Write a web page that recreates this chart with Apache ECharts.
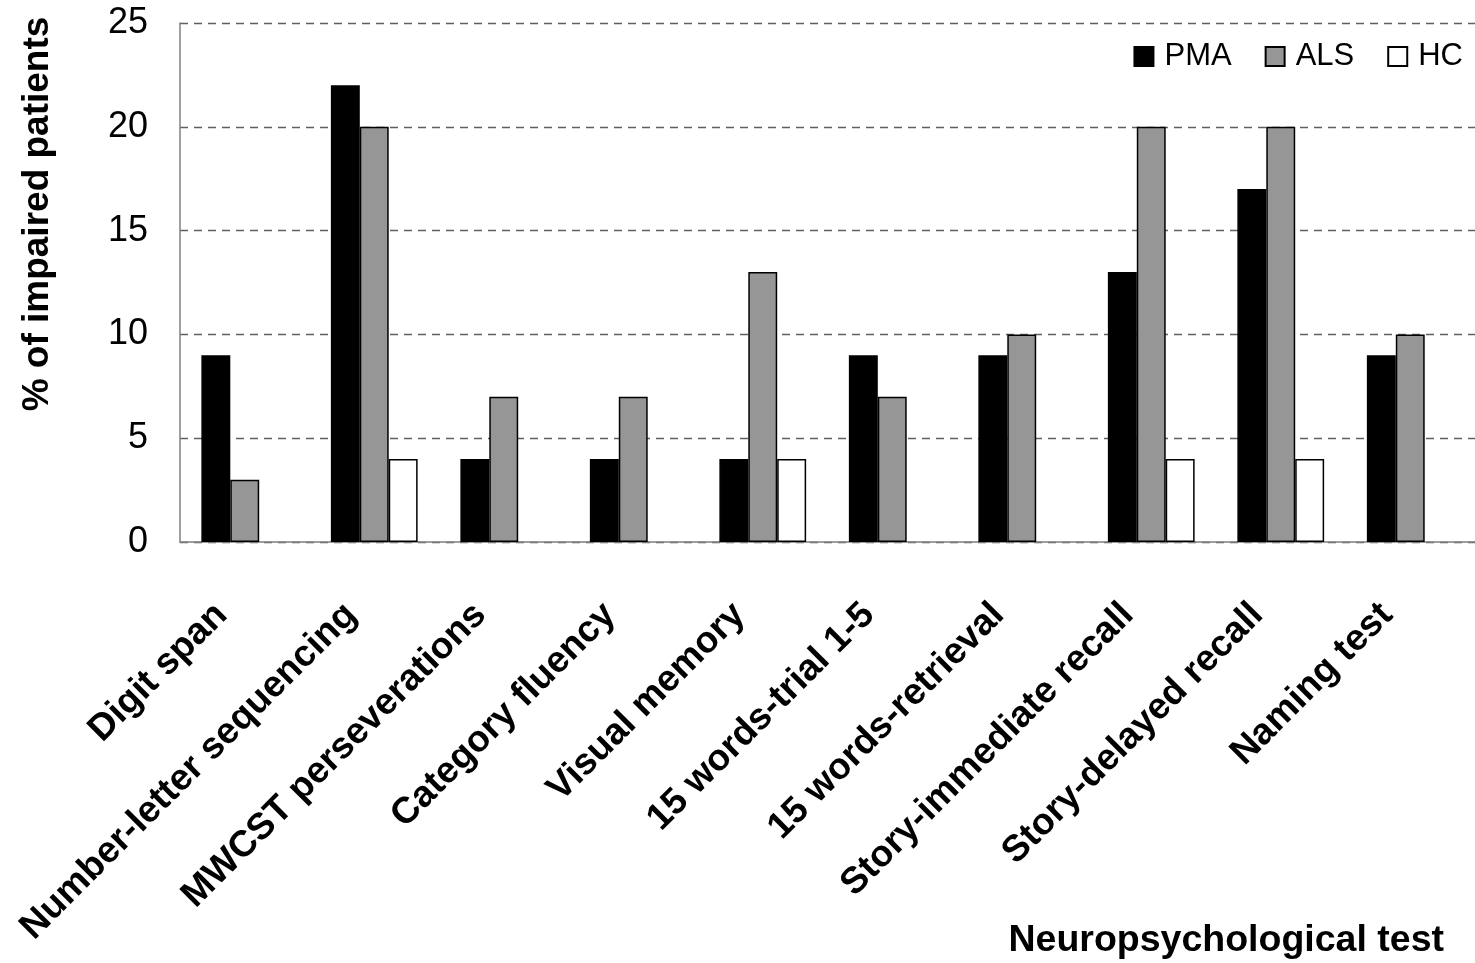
<!DOCTYPE html>
<html>
<head>
<meta charset="utf-8">
<script src="https://cdn.jsdelivr.net/npm/echarts@6/dist/echarts.min.js"></script>
<style>
html,body{margin:0;padding:0;background:#fff;}
#chart{width:1475px;height:963px;}
</style>
</head>
<body>
<div id="chart"></div>
<script>
const categories = ['Digit span','Number-letter sequencing','MWCST perseverations','Category fluency','Visual memory','15 words-trial 1-5','15 words-retrieval','Story-immediate recall','Story-delayed recall','Naming test'];
const pmaValues = [9, 22, 4, 4, 4, 9, 9, 13, 17, 9];
const alsValues = [3, 20, 7, 7, 13, 7, 10, 20, 20, 10];
const hcValues  = [0, 4, 0, 0, 4, 0, 0, 4, 4, 0];
const seriesNames = ['PMA','ALS','HC'];
const yTicks = [0, 5, 10, 15, 20, 25];

const FONT = '"Liberation Sans", Arial, sans-serif';
const chart = echarts.init(document.getElementById('chart'));

function barSeries(name, values, color) {
  return {
    name: name,
    type: 'bar',
    data: values.map(v => (v === 0 ? '-' : v)),
    barGap: '0%',
    barCategoryGap: '33%',
    itemStyle: { color: color, borderColor: '#000', borderWidth: 1.5 },
    emphasis: { disabled: true }
  };
}

chart.setOption({
  animation: false,
  backgroundColor: '#fff',
  textStyle: { fontFamily: FONT },
  grid: { left: 180, top: 23, width: 1298, bottom: 421, containLabel: false },
  legend: {
    data: seriesNames,
    right: 12,
    top: 41,
    padding: 0,
    icon: 'rect',
    itemWidth: 19,
    itemHeight: 19,
    itemGap: 33,
    textStyle: { fontFamily: FONT, fontSize: 31, color: '#000', padding: [0, 0, 0, 6], lineHeight: 30 }
  },
  xAxis: {
    type: 'category',
    data: categories,
    axisLine: { lineStyle: { color: '#808080', width: 1.5 } },
    axisTick: { show: false },
    axisLabel: {
      interval: 0,
      rotate: 45,
      margin: 44,
      padding: [0, 33, 0, 0],
      fontFamily: FONT,
      fontWeight: 'bold',
      fontSize: 37,
      color: '#000'
    },
    splitLine: { show: false }
  },
  yAxis: {
    type: 'value',
    min: yTicks[0],
    max: yTicks[yTicks.length - 1],
    interval: 5,
    axisLine: { show: true, lineStyle: { color: '#808080', width: 1.5 } },
    axisTick: { show: false },
    axisLabel: { margin: 32, fontFamily: FONT, fontSize: 36, color: '#000' },
    splitLine: { show: true, lineStyle: { color: '#606060', width: 1.3, type: [8, 6] } }
  },
  graphic: [
    {
      type: 'text',
      x: 38, y: 214,
      rotation: Math.PI / 2,
      style: {
        text: '% of impaired patients',
        fontFamily: FONT, fontWeight: 'bold', fontSize: 37, fill: '#000',
        align: 'center', verticalAlign: 'middle'
      }
    },
    {
      type: 'text',
      x: 1444, y: 941,
      style: {
        text: 'Neuropsychological test',
        fontFamily: FONT, fontWeight: 'bold', fontSize: 37.5, fill: '#000',
        align: 'right', verticalAlign: 'middle'
      }
    }
  ],
  series: [
    barSeries(seriesNames[0], pmaValues, '#000000'),
    barSeries(seriesNames[1], alsValues, '#969696'),
    barSeries(seriesNames[2], hcValues, '#ffffff')
  ]
});
</script>
</body>
</html>
